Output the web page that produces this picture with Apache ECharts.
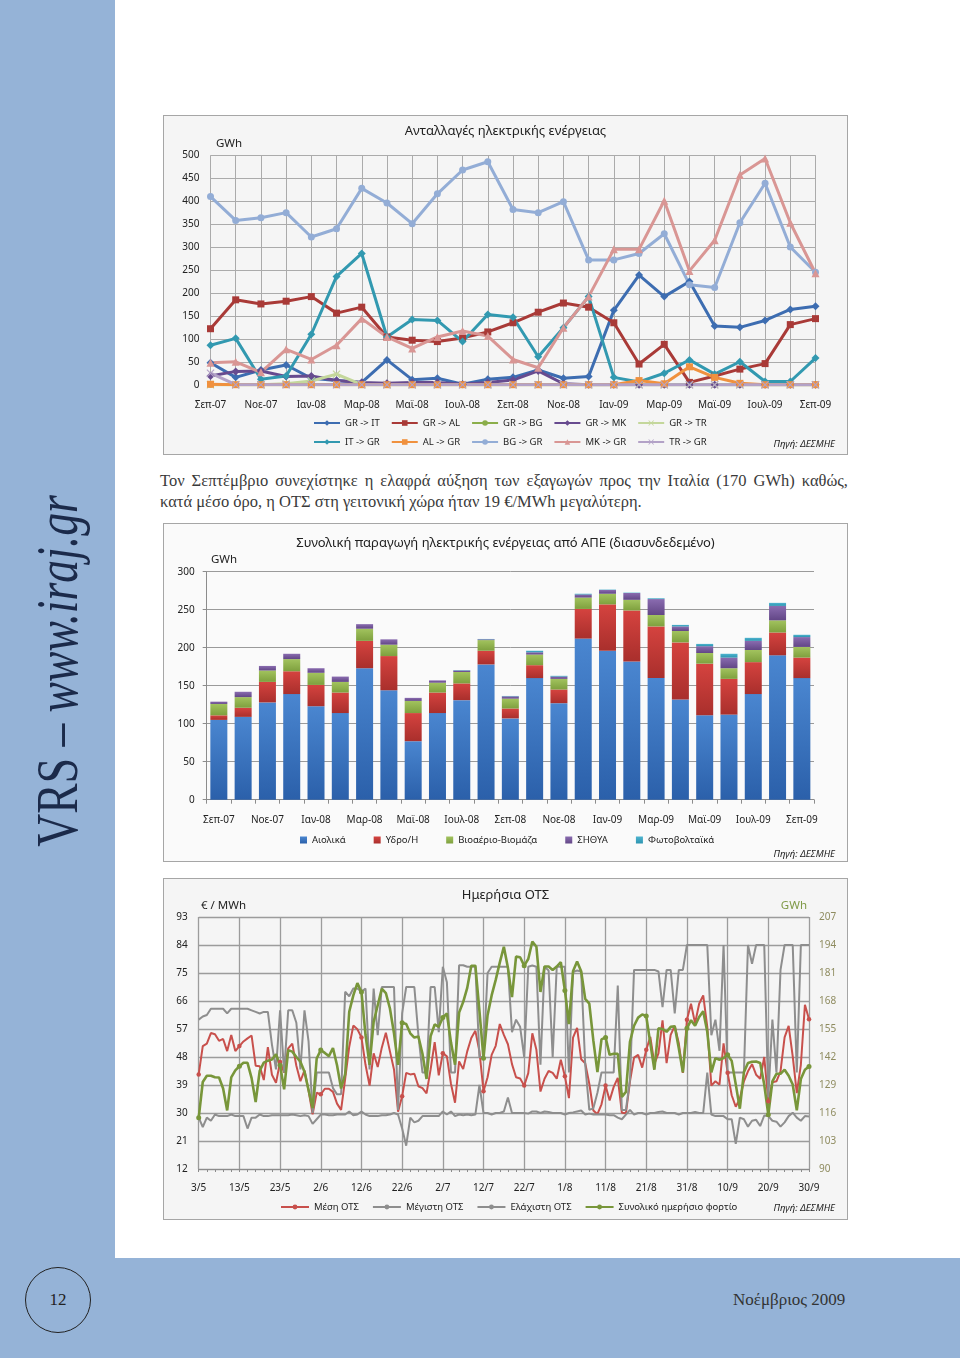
<!DOCTYPE html>
<html><head><meta charset="utf-8">
<script src="https://cdn.jsdelivr.net/npm/echarts@6/dist/echarts.min.js"></script>
<style>
body{margin:0;width:960px;height:1358px;position:relative;background:#fff;overflow:hidden;font-family:"Noto Sans",sans-serif}
.band{position:absolute;background:#95B3D7}
.box{position:absolute;left:163px;width:685px;border:1px solid #A6A6A6;box-sizing:border-box}
#para{position:absolute;left:160px;top:470px;width:688px;font-family:"Liberation Serif",serif;font-size:16.5px;line-height:21px;color:#3a3a3a}
#para .l1{text-align:justify;text-align-last:justify}
#vt{position:absolute;left:57px;top:671px;width:0;height:0}
#vt span{position:absolute;left:0;top:0;white-space:nowrap;font-family:"Liberation Serif",serif;font-size:60px;line-height:1;color:#1B2A4A;transform-origin:0 0;transform:rotate(-90deg) scaleX(0.76) translate(-50%,-50%)}
#circ{position:absolute;left:25px;top:1267px;width:66px;height:66px;border:1.5px solid #222;border-radius:50%;box-sizing:border-box;text-align:center;line-height:63px;font-family:"Liberation Serif",serif;font-size:17px;color:#222}
#month{position:absolute;left:733px;top:1290px;font-family:"Liberation Serif",serif;font-size:17px;color:#333}
</style></head>
<body>
<div class="band" style="left:0;top:0;width:115px;height:1258px"></div>
<div class="band" style="left:0;top:1258px;width:960px;height:100px"></div>
<div id="vt"><span>VRS – <i>www.iraj.gr</i></span></div>
<div id="circ">12</div>
<div id="month">Νοέμβριος 2009</div>
<div class="box" id="c1" style="top:115px;height:340px"></div>
<div id="para"><div class="l1">Τον Σεπτέμβριο συνεχίστηκε η ελαφρά αύξηση των εξαγωγών προς την Ιταλία (170 GWh) καθώς,</div><div>κατά μέσο όρο, η ΟΤΣ στη γειτονική χώρα ήταν 19 €/MWh μεγαλύτερη.</div></div>
<div class="box" id="c2" style="top:523px;height:339px"></div>
<div class="box" id="c3" style="top:878px;height:342px"></div>
<script>
// ---------- Chart 1: exchanges ----------
const months = ['Σεπ-07','Οκτ-07','Νοε-07','Δεκ-07','Ιαν-08','Φεβ-08','Μαρ-08','Απρ-08','Μαϊ-08','Ιουν-08','Ιουλ-08','Αυγ-08','Σεπ-08','Οκτ-08','Νοε-08','Δεκ-08','Ιαν-09','Φεβ-09','Μαρ-09','Απρ-09','Μαϊ-09','Ιουν-09','Ιουλ-09','Αυγ-09','Σεπ-09'];
const GR_IT = [48,16,32,43,14,9,5,54,11,14,1,12,16,32,14,18,162,239,192,225,128,125,140,164,171];
const GR_AL = [122,185,176,182,192,156,169,104,97,94,102,115,135,158,178,169,135,45,88,5,19,34,46,131,144];
const GR_BG = [0,0,0,0,0,0,0,0,0,0,0,0,0,0,0,0,0,0,0,0,0,0,0,0,0];
const GR_MK = [19,29,30,18,19,9,5,3,5,5,1,5,10,30,2,0,0,0,0,0,0,0,0,0,0];
const GR_TR = [0,0,0,2,8,23,0,0,0,0,0,0,0,0,0,0,0,0,0,0,0,0,0,0,0];
const IT_GR = [86,101,12,19,110,236,286,104,142,140,94,153,147,61,124,192,16,6,25,54,23,50,7,7,58];
const AL_GR = [1,0,0,0,0,0,0,0,0,0,0,0,0,0,0,0,0,9,2,39,16,3,0,0,0];
const BG_GR = [410,358,364,375,322,340,428,396,351,416,468,486,382,375,399,272,272,286,329,218,212,353,439,300,245];
const MK_GR = [48,50,27,77,55,86,144,104,79,104,117,106,55,37,124,192,295,295,401,248,315,457,493,353,243];
const TR_GR = [25,0,0,0,0,0,0,0,0,0,0,0,0,0,0,0,0,0,0,0,0,0,0,0,0];

// ---------- Chart 2: RES production ----------
const wind  = [105,109,128,139,123,114,173,144,77,114,131,178,107,160,127,212,196,182,160,132,111,112,139,190,160];
const hydro = [6,12,27,30,28,27,36,45,37,27,22,18,13,17,18,39,61,67,68,75,68,47,42,30,27];
const bio   = [15,14,15,16,16,14,16,15,16,13,15,14,13,14,14,15,14,14,15,15,14,14,16,16,14];
const chp   = [3,7,6,7,6,7,6,7,4,3,2,1,3,3,3,4,5,9,21,6,9,14,12,19,13];
const pv    = [0,0,0,0,0,0,0,0,0,0,0.5,0.5,0.5,2,1,1,0.5,0.5,1,2,3,5,4,4,3];

// ---------- Chart 3: daily prices ----------
const dayMonths = [[5,3,31],[6,1,30],[7,1,31],[8,1,31],[9,1,30]];
const avgSMP = [42.4,51.5,52.3,55.7,55.3,53.2,53.8,49.9,55.1,49.9,
 51.5,53,54,54.9,45.2,45,40.6,51.2,42.3,39.7,
 46.4,43,50.8,52.3,45.2,40.2,43.7,37.2,29.6,36.5,
 36,37.8,37.8,36.8,33,31,41,51.3,58.1,56.9,
 54.3,45.5,38.8,49.2,44.8,51,55.8,49.8,44,30.4,
 35.4,42.9,42.4,42.6,38.6,38,36.3,44,52.8,42.1,
 49.2,48.2,39.4,33.3,46.6,44.1,49.8,54.1,56.4,49.8,
 37,41.5,48.7,51.6,58.6,55.1,52.1,45.7,41.5,41.1,
 38.8,42.8,55.6,50.3,36.9,41,43.5,42.9,41,47.1,
 41.8,34.8,54.2,57.4,47.3,46,39.4,30.8,29.6,32.8,
 38.8,34,38.4,41.3,30.1,29.9,40.2,47.8,48.7,44.6,
 50.3,54.5,45.8,49.2,59.8,46,55.1,58,52.4,42.9,
 60,65.1,58.8,65.1,67.8,57.7,38.8,40.2,39.1,52.4,
 42.9,35.7,32,34.6,40.2,43.4,45.7,42.3,41,48,
 33.8,39.9,40.2,43.4,54.3,58,48.2,36.4,45.5,64.8,60.1];
const maxSMP = [60,61,61.5,63.5,63.5,63.5,63.5,62,63.5,63.5,
 63.5,63.5,63.5,63,62.5,62,62.5,62.5,52,44,
 63,43,63,63,59,44,63,53,30,43,
 43,43,43,38,36,36,69,67.5,70,70,
 69,70,44,70,55,70.5,70.5,70.5,70.5,31,
 62,70.5,70.5,70.5,55,43,43,70.5,70.5,56,
 77,72,43,43,77.5,77.5,77,77,77,48,
 48,75,77,77,77,77,77,56,60,57.7,
 48,77,77.4,77,45.5,77,75.8,48,77,77,
 77,43,75.3,75.8,75.5,45.5,31,31.5,36.5,43,
 43,43,43,71,31,31,40.7,76,76,76,
 76,76,76,75.5,64,76,76,62,76,76,
 84,84,84,84,84,84,55,60,50,84,
 43,43,43,43,43,84,78,84,84,84,
 35,60,43,76,84,84,84,43,84,84,84];
const minSMP = [28.5,25.5,28.5,27.5,29.5,29,29,29,29.5,29,
 29,29,25,28.5,28.5,29.5,29,29,29.3,29.3,
 29.3,29.3,29.3,29.5,29.3,29,29.3,29,26.5,28,
 29.5,29.5,29.3,29.3,29.5,29.5,29.5,30.5,29.3,29.5,
 30.5,29.5,29,29,29,29.3,29.3,29.5,30,29.5,
 25,19.5,28.5,27,27.5,29,29,29,29,29,
 30.5,29.5,30.5,29,29.5,29.3,29.5,29.3,29.5,39,
 30,30,29.5,30,30,30.5,35,30,30,30,
 30,29.8,30.5,30.5,30,30.5,30.3,30,30,30,
 29.5,30,30.2,30.5,30.8,29.5,29.8,29.5,29.5,29.5,
 29.5,29.3,29.3,28.5,28,29.5,31,29.5,30,30,
 29.5,30,30,30.3,30.5,30,30,30,29.5,30,
 30,30,30.3,30,30,43,29.5,29,29,29,
 28,28,20.1,28.5,28,25.6,27.5,27.8,25.8,29.2,
 29,27.5,27.2,25.6,27,29,30.1,28.5,27.5,29,28.9];
const load = [113.8,130.4,133.3,133.3,132.6,132.5,127.4,117.2,132.5,135.8,
 137.7,139.3,139.3,132.2,121.1,135.6,139.4,140.3,140.8,143.3,
 138.2,127,145.2,144.5,142,139.8,135.2,126.7,118.3,141.3,
 145.2,143.9,142.4,146.2,138.2,127.4,134,163,170.6,176.3,
 172.2,152.2,138.4,158.3,166,173.7,171.7,164.5,153,138.4,
 157.9,157.3,153,151,151.5,143.5,131.8,151.7,157.1,156,
 160.3,162.2,148.8,138.4,162.6,167.5,174.1,184.4,184.4,163.4,
 141.4,161.4,170.6,177.8,185.8,193.2,183.4,169.8,188.6,188.3,
 184.4,187.5,195.6,193.2,172.2,184,184,182.4,184,186,
 172.9,157.3,181.8,186.3,181.8,169,166.8,149.6,135,150.2,
 151.1,143,143.5,143.5,123.5,125.8,149.1,156.5,160.3,161.7,
 161,148.4,136.1,155.3,155,153.7,156,156.3,146,134.9,
 155.3,159.1,156.5,160.6,163.2,153.7,134.9,141.5,140.7,141.5,
 143,140.2,129.3,118,134.9,139.2,139.8,139.9,139.2,129.2,
 115.2,130.7,134.2,134.2,136.1,133.3,129.2,117.2,131.8,136.1,137.6];

const days = [];
dayMonths.forEach(function(m){ for(let d=m[1]; d<=m[2]; d++) days.push(d+'/'+m[0]); });

const FONT = '"Noto Sans", sans-serif';
const crossPath = 'path://M1,0L5,4L9,0L10,1L6,5L10,9L9,10L5,6L1,10L0,9L4,5L0,1Z';
function src(y){ return {type:'text', right:12, top:y, style:{text:'Πηγή: ΔΕΣΜΗΕ', fontFamily:FONT, fontSize:9.5, fontStyle:'italic', fill:'#222'}}; }

// Chart 1
(function(){
  const c = echarts.init(document.getElementById('c1'), null, {renderer:'canvas'});
  const defs = [
    ['GR -> IT', GR_IT, '#3D6DB1', 'diamond', 8],
    ['GR -> AL', GR_AL, '#A93A37', 'rect', 7],
    ['GR -> BG', GR_BG, '#8BAE4A', 'circle', 6],
    ['GR -> MK', GR_MK, '#674B8F', 'diamond', 8],
    ['GR -> TR', GR_TR, '#C4D79B', crossPath, 8],
    ['IT -> GR', IT_GR, '#3299B0', 'diamond', 8],
    ['AL -> GR', AL_GR, '#F0913E', 'rect', 7],
    ['BG -> GR', BG_GR, '#93ADD6', 'circle', 7],
    ['MK -> GR', MK_GR, '#D99694', 'triangle', 8],
    ['TR -> GR', TR_GR, '#B3A2C7', crossPath, 8]
  ];
  const series = defs.map(function(d){ return {name:d[0], type:'line', data:d[1], symbol:d[3], symbolSize:d[4], showSymbol:true,
    lineStyle:{width:3, color:d[2]}, itemStyle:{color:d[2]}, emphasis:{disabled:true}}; });
  const legBase = {itemWidth:26, itemHeight:7, itemGap:11, textStyle:{fontFamily:FONT, fontSize:9.5, color:'#222'}, selectedMode:false};
  c.setOption({
    animation:false, backgroundColor:'#F5F5F5',
    textStyle:{fontFamily:FONT},
    title:{text:'Ανταλλαγές ηλεκτρικής ενέργειας', left:'center', top:4, textStyle:{fontFamily:FONT, fontSize:13, fontWeight:'normal', color:'#222'}},
    grid:{left:46.5, right:31.5, top:39.3, bottom:69.3},
    legend:[Object.assign({data:defs.slice(0,5).map(d=>d[0]), left:144, top:297}, legBase),
            Object.assign({data:defs.slice(5).map(d=>d[0]), left:144, top:316}, legBase)],
    xAxis:{type:'category', data:months, boundaryGap:false,
      axisLabel:{interval:1, fontSize:10, color:'#222', margin:15},
      axisTick:{show:false}, axisLine:{lineStyle:{color:'#A0A0A0'}},
      splitLine:{show:true, interval:0, lineStyle:{color:'#ABABAB', width:1}}},
    yAxis:{type:'value', min:0, max:500, interval:50,
      axisLabel:{fontSize:10, color:'#222', margin:11},
      axisLine:{show:false}, axisTick:{show:false},
      splitLine:{lineStyle:{color:'#ABABAB', width:1}}},
    graphic:[{type:'text', left:52, top:22, style:{text:'GWh', fontFamily:FONT, fontSize:11.5, fill:'#222'}}, src(323)],
    series:series
  });
})();

// Chart 2
(function(){
  const c = echarts.init(document.getElementById('c2'));
  function grad(a,b){ return new echarts.graphic.LinearGradient(0,0,0,1,[{offset:0,color:a},{offset:1,color:b}]); }
  const defs = [
    ['Αιολικά', wind, '#4A86D0', '#2B60AA'],
    ['Υδρο/Η', hydro, '#D5433F', '#A92F2C'],
    ['Βιοαέριο-Βιομάζα', bio, '#A2C35E', '#7EA03E'],
    ['ΣΗΘΥΑ', chp, '#8A6CB0', '#624686'],
    ['Φωτοβολταϊκά', pv, '#4EB4CF', '#2C94B0']
  ];
  c.setOption({
    animation:false, backgroundColor:'#FAFAFA',
    textStyle:{fontFamily:FONT},
    title:{text:'Συνολική παραγωγή ηλεκτρικής ενέργειας από ΑΠΕ (διασυνδεδεμένο)', left:'center', top:8, textStyle:{fontFamily:FONT, fontSize:13, fontWeight:'normal', color:'#222'}},
    grid:{left:42.7, right:33, top:47.7, bottom:61.3},
    legend:{data:defs.map(d=>d[0]), left:131, top:306, icon:'rect', itemWidth:7, itemHeight:7, itemGap:28, selectedMode:false,
      textStyle:{fontFamily:FONT, fontSize:9.5, color:'#222'}},
    xAxis:{type:'category', data:months, boundaryGap:true,
      axisLabel:{interval:1, fontSize:10, color:'#222', margin:15},
      axisTick:{show:true, interval:0, length:4, lineStyle:{color:'#8C8C8C'}},
      axisLine:{lineStyle:{color:'#8C8C8C'}}},
    yAxis:{type:'value', min:0, max:300, interval:50,
      axisLabel:{fontSize:10, color:'#222', margin:12},
      axisLine:{show:true, lineStyle:{color:'#8C8C8C'}}, axisTick:{show:true, length:4, lineStyle:{color:'#8C8C8C'}},
      splitLine:{lineStyle:{color:'#9A9A9A', width:1}}},
    graphic:[{type:'text', left:47, top:30, style:{text:'GWh', fontFamily:FONT, fontSize:11.5, fill:'#222'}}, src(325)],
    series:defs.map(function(d){ return {name:d[0], type:'bar', stack:'tot', data:d[1], barCategoryGap:'30%',
      itemStyle:{color:grad(d[2],d[3])}, emphasis:{disabled:true}}; })
  });
})();

// Chart 3
(function(){
  const c = echarts.init(document.getElementById('c3'));
  c.setOption({
    animation:false, backgroundColor:'#F5F5F5',
    textStyle:{fontFamily:FONT},
    title:{text:'Ημερήσια ΟΤΣ', left:'center', top:5, textStyle:{fontFamily:FONT, fontSize:13, fontWeight:'normal', color:'#222'}},
    grid:{left:34.7, right:38, top:38, bottom:50},
    legend:{data:['Μέση ΟΤΣ','Μέγιστη ΟΤΣ','Ελάχιστη ΟΤΣ','Συνολικό ημερήσιο φορτίο'], left:111, top:318, itemWidth:28, itemHeight:6, itemGap:13,
      selectedMode:false, textStyle:{fontFamily:FONT, fontSize:9.5, color:'#222'}},
    xAxis:{type:'category', data:days, boundaryGap:false,
      axisLabel:{interval:9, fontSize:10, color:'#222', margin:14},
      axisTick:{show:true, interval:1, length:3, lineStyle:{color:'#8C8C8C'}},
      axisLine:{lineStyle:{color:'#8C8C8C'}},
      splitLine:{show:true, interval:9, lineStyle:{color:'#9C9C9C', width:1.3}}},
    yAxis:[
      {type:'value', min:12, max:93, interval:9, axisLabel:{fontSize:10, color:'#222', margin:11},
        axisLine:{show:false}, axisTick:{show:false}, splitLine:{lineStyle:{color:'#9C9C9C', width:1.3}}},
      {type:'value', min:90, max:207, interval:13, axisLabel:{fontSize:10, color:'#8F8C60', margin:10},
        axisLine:{show:false}, axisTick:{show:false}, splitLine:{show:false}}
    ],
    graphic:[{type:'text', left:37, top:21, style:{text:'€ / MWh', fontFamily:FONT, fontSize:11.5, fill:'#222'}},
             {type:'text', right:40, top:21, style:{text:'GWh', fontFamily:FONT, fontSize:11.5, fill:'#7F9A47'}}, src(324)],
    series:[
      {name:'Μέση ΟΤΣ', type:'line', data:avgSMP, symbol:'circle', symbolSize:4.5, lineStyle:{width:2, color:'#C8504C'}, itemStyle:{color:'#C8504C'}, emphasis:{disabled:true}},
      {name:'Μέγιστη ΟΤΣ', type:'line', data:maxSMP, symbol:'none', lineStyle:{width:2, color:'#8E8E8E'}, itemStyle:{color:'#8E8E8E'}, emphasis:{disabled:true}},
      {name:'Ελάχιστη ΟΤΣ', type:'line', data:minSMP, symbol:'none', lineStyle:{width:2, color:'#8E8E8E'}, itemStyle:{color:'#8E8E8E'}, emphasis:{disabled:true}},
      {name:'Συνολικό ημερήσιο φορτίο', type:'line', yAxisIndex:1, data:load, symbol:'circle', symbolSize:5, lineStyle:{width:2.6, color:'#78963A'}, itemStyle:{color:'#78963A'}, emphasis:{disabled:true}}
    ]
  });
})();
</script>
</body></html>
